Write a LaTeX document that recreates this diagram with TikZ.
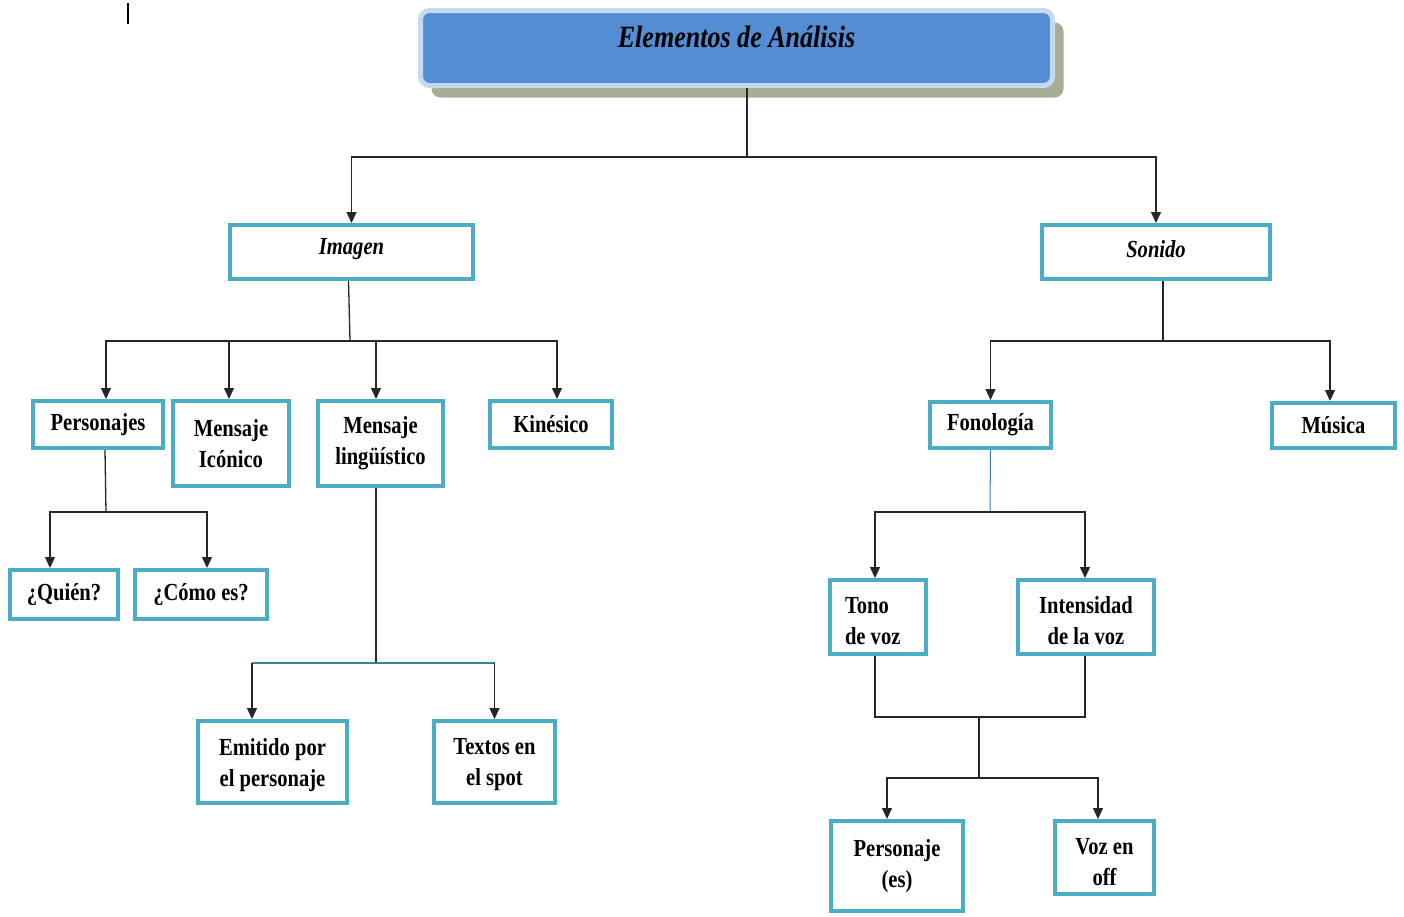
\documentclass[tikz,border=0pt]{standalone}
\usepackage{fontspec}
\setmainfont{Liberation Serif}[FakeStretch=0.84]
\usetikzlibrary{arrows.meta,shadows}
\definecolor{boxteal}{RGB}{75,172,198}
\definecolor{titlefill}{RGB}{84,141,212}
\definecolor{titlerim}{RGB}{198,217,241}
\definecolor{titleshade}{RGB}{166,174,148}
\definecolor{linkteal}{RGB}{49,132,155}
% shift a label vertically without changing the box it occupies
\newcommand{\lift}[2]{\raisebox{#1}[\height][\depth]{#2}}
\begin{document}
\begin{tikzpicture}[x=1pt,y=-1pt,
  every node/.style={font=\fontsize{24.5}{31}\selectfont\bfseries, text=black},
  box/.style={draw=boxteal, line width=4pt, fill=white, inner sep=0pt, align=center},
  titlebox/.style={draw=titlerim, line width=5pt, fill=titlefill, rounded corners=9pt,
    inner sep=0pt,
    drop shadow={shadow xshift=11pt, shadow yshift=-12pt, fill=titleshade, opacity=1}},
  link/.style={line width=1.3pt, draw=black!85},
  arr/.style={link, -{Triangle[width=10pt,length=11pt]}},
  tlink/.style={line width=1.3pt, draw=linkteal}]
\useasboundingbox (0,0) rectangle (1404,916);

% cursor mark
\draw[line width=2.5pt, black] (128,3) -- (128,24);

% title
\node[titlebox, minimum width=632pt, minimum height=75pt] (top) at (736.5,48)
  {\lift{11pt}{\fontsize{31}{36}\selectfont\itshape Elementos de Análisis}};

% second level
\node[box, minimum width=243pt, minimum height=54pt] (imagen) at (351.5,252) {\lift{3pt}{\itshape Imagen}};
\node[box, minimum width=228pt, minimum height=54pt] (sonido) at (1156,252) {\lift{3pt}{\itshape Sonido}};

% image branch
\node[box, minimum width=130pt, minimum height=47pt] (pers) at (98,424.5) {Personajes};
\node[box, minimum width=116pt, minimum height=85pt] (mic) at (231,443.5) {Mensaje\\Icónico};
\node[box, minimum width=125pt, minimum height=85pt] (mling) at (380.5,443.5) {Mensaje\\lingüístico};
\node[box, minimum width=122pt, minimum height=47pt] (kin) at (551,424.5) {Kinésico};
\node[box, minimum width=108pt, minimum height=49pt] (quien) at (64,594.5) {¿Quién?};
\node[box, minimum width=132pt, minimum height=49pt] (como) at (201,594.5) {¿Cómo es?};
\node[box, minimum width=149pt, minimum height=82pt] (emit) at (272.5,762) {\lift{-3pt}{\parbox{140pt}{\centering Emitido por\\el personaje}}};
\node[box, minimum width=121pt, minimum height=82pt] (textos) at (494.5,762) {\lift{-3pt}{\parbox{115pt}{\centering Textos en\\el spot}}};

% sound branch
\node[box, minimum width=121pt, minimum height=46pt] (fono) at (990.5,425) {Fonología};
\node[box, minimum width=123pt, minimum height=45pt] (musica) at (1333.5,425.5) {Música};
\node[box, minimum width=96pt, minimum height=74pt] (tono) at (878,617) {\lift{-4pt}{\parbox{66pt}{\raggedright Tono\\de voz}}};
\node[box, minimum width=136pt, minimum height=74pt] (inten) at (1086,617) {\lift{-4pt}{\parbox{130pt}{\centering Intensidad\\de la voz}}};
\node[box, minimum width=132pt, minimum height=90pt] (perso) at (897,866) {Personaje\\(es)};
\node[box, minimum width=99pt, minimum height=73pt] (voz) at (1104.5,857.5) {\lift{-5pt}{\parbox{95pt}{\centering Voz en\\off}}};

% junction points
\coordinate (j1) at (747,157);
\coordinate (j2) at (350,341);
\coordinate (j3) at (106,512);
\coordinate (j4) at (376,663);
\coordinate (j5) at (1163,341);
\coordinate (j6) at (990,512);
\coordinate (j7) at (979,717);
\coordinate (j8) at (979,778);

% title to second level
\draw[link] ([xshift=10.5pt]top.south) -- (j1);
\draw[arr] (j1) -| (imagen.north);
\draw[arr] (j1) -| (sonido.north);

% Imagen
\draw[link] ([xshift=-3pt]imagen.south) -- (j2);
\draw[arr] (j2) -| ([xshift=8pt]pers.north);
\draw[arr] (j2) -| ([xshift=-2pt]mic.north);
\draw[arr] (j2) -| ([xshift=-4.5pt]mling.north);
\draw[arr] (j2) -| ([xshift=6pt]kin.north);

% Personajes
\draw[link] ([xshift=7pt]pers.south) -- (j3);
\draw[arr] (j3) -| ([xshift=-14pt]quien.north);
\draw[arr] (j3) -| ([xshift=6pt]como.north);

% Mensaje lingüístico
\draw[link] ([xshift=-4.5pt]mling.south) -- (j4);
\draw[tlink] ([xshift=-20.5pt]emit.north |- j4) -- (textos.north |- j4);
\draw[arr] ([xshift=-20.5pt]emit.north |- j4) -- ([xshift=-20.5pt]emit.north);
\draw[arr] (textos.north |- j4) -- (textos.north);

% Sonido
\draw[link] ([xshift=7pt]sonido.south) -- (j5);
\draw[arr] (j5) -| (fono.north);
\draw[arr] (j5) -| ([xshift=-3.5pt]musica.north);

% Fonología
\draw[tlink, line width=1pt] (fono.south) -- (j6);
\draw[arr] (j6) -| ([xshift=-3pt]tono.north);
\draw[arr] (j6) -| ([xshift=-1pt]inten.north);

% Tono / Intensidad to Personaje / Voz en off
\draw[link] ([xshift=-3pt]tono.south) -- ++(0,61) -| ([xshift=-1pt]inten.south);
\draw[link] (j7) -- (j8);
\draw[arr] (j8) -| ([xshift=-10pt]perso.north);
\draw[arr] (j8) -| ([xshift=-6.5pt]voz.north);
\end{tikzpicture}
\end{document}
